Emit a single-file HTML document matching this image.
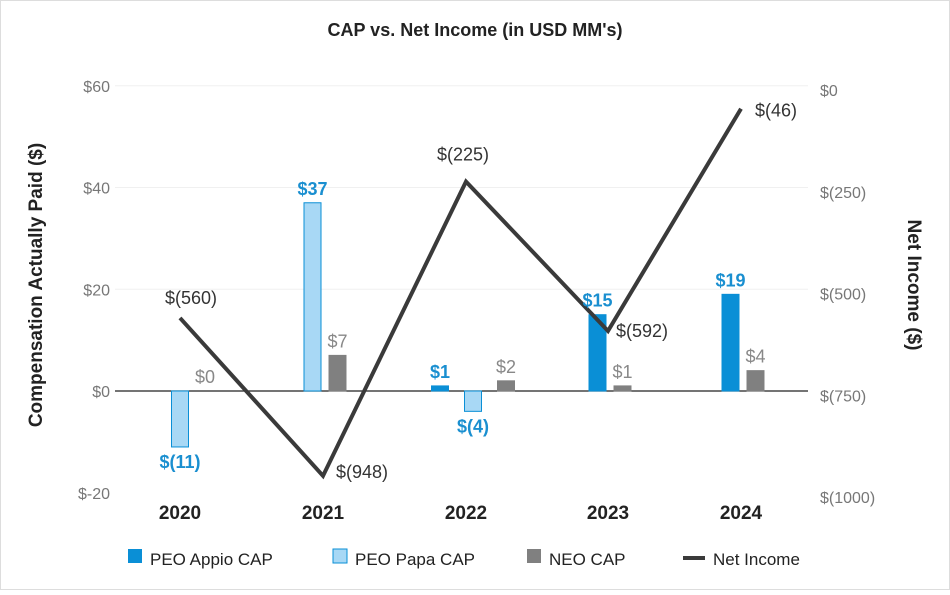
<!DOCTYPE html>
<html><head><meta charset="utf-8"><style>
body{margin:0;background:#fff;font-family:"Liberation Sans",sans-serif}
</style></head><body>
<svg id="chart" width="950" height="590" xmlns="http://www.w3.org/2000/svg" font-family="Liberation Sans, sans-serif">
<rect x="0.5" y="0.5" width="949" height="589" fill="#fff" stroke="#ddd"/>
<text x="475" y="36" text-anchor="middle" font-size="18" font-weight="bold" fill="#222">CAP vs. Net Income (in USD MM's)</text>
<text transform="translate(42,285) rotate(-90)" text-anchor="middle" font-size="19" font-weight="bold" fill="#222">Compensation Actually Paid ($)</text>
<text transform="translate(908,285) rotate(90)" text-anchor="middle" font-size="19" font-weight="bold" fill="#222">Net Income ($)</text>
<g id="grid"></g><g id="bars"></g><g id="line"></g><g id="labels"></g>
<g>
<rect x="128" y="549" width="14" height="14" fill="#0a8fd6"/><text x="150" y="565" font-size="17" fill="#222">PEO Appio CAP</text>
<rect x="333" y="549" width="14" height="14" fill="#a8d8f5" stroke="#0a8fd6"/><text x="355" y="565" font-size="17" fill="#222">PEO Papa CAP</text>
<rect x="527" y="549" width="14" height="14" fill="#808080"/><text x="549" y="565" font-size="17" fill="#222">NEO CAP</text>
<line x1="683" y1="558" x2="705" y2="558" stroke="#3a3a3a" stroke-width="4"/><text x="713" y="565" font-size="17" fill="#222">Net Income</text>
</g>
</svg>
<script>
const categories=["2020","2021","2022","2023","2024"];
const appio=[null,null,1,15,19];
const papa=[-11,37,-4,null,null];
const neo=[0,7,2,1,4];
const netIncome=[-560,-948,-225,-592,-46];
const leftTicks=[60,40,20,0,-20];
const rightTicks=[0,-250,-500,-750,-1000];
const NS="http://www.w3.org/2000/svg";
const catX=[180,323,466,608,741];
const yL=v=>391-(v)*(407/80);
const yR=v=>90-(v)*(407/1000);
function el(tag,attrs,parent,txt){const e=document.createElementNS(NS,tag);for(const k in attrs)e.setAttribute(k,attrs[k]);if(txt!==undefined)e.textContent=txt;document.getElementById(parent).appendChild(e);return e;}
const fmt=v=>v<0?"$("+Math.abs(v)+")":"$"+v;
leftTicks.forEach(t=>{
  if(t!==0&&t!==-20){const g=el('line',{x1:115,x2:808,y1:yL(t),y2:yL(t),stroke:'#f0f0f0'},'grid');
  
  }
  const l=el('text',{x:110,y:yL(t)+6,'text-anchor':'end','font-size':16,fill:'#777'},'grid',"$"+t);
  
  
});
rightTicks.forEach(t=>{
  const l=el('text',{x:820,y:yR(t)+6,'font-size':16,fill:'#777'},'grid',t===0?"$0":"$("+Math.abs(t)+")");
  
  
});
const z=el('line',{x1:115,x2:808,y1:yL(0),y2:yL(0),stroke:'#222','stroke-width':1.3},'grid');


categories.forEach((c,i)=>{
  const t=el('text',{x:catX[i],y:519,'text-anchor':'middle','font-size':19,'font-weight':'bold',fill:'#222'},'labels',c);
  
  
  const all=[[appio[i],'#0a8fd6','#0a8fd6','#1a8fd0','appio'],[papa[i],'#a8d8f5','#0a8fd6','#1a8fd0','papa'],[neo[i],'#808080','#808080','#888','neo']].filter(s=>s[0]!==null);
  const drawn=all.filter(s=>!(s[4]==='neo'&&s[0]===0));
  const n=drawn.length,sp=n===3?33:25,w=17,shift=n===3?7:(n===1?0:2);
  all.forEach(s=>{
    const v=s[0];
    const j=drawn.indexOf(s);
    const px=j<0?catX[i]+25:catX[i]+shift+(j-(n-1)/2)*sp;
    const y0=yL(0),y1=yL(v);
    if(j>=0){
      const r=el('rect',{x:px-w/2,y:Math.min(y0,y1),width:w,height:Math.max(Math.abs(y1-y0),0.5),fill:s[1],stroke:s[2],'stroke-width':1},'bars');
      
      
    }
    const ly=v<0?y1+21:y1-8;
    const l=el('text',{x:px,y:ly,'text-anchor':'middle','font-size':18,'font-weight':s[4]==='neo'?'normal':'bold',fill:s[3]},'labels',fmt(v));
    
    
  });
});
const pts=netIncome.map((v,i)=>catX[i]+","+yR(v)).join(" ");
const pl=el('polyline',{points:pts,fill:'none',stroke:'#3a3a3a','stroke-width':4,'stroke-linejoin':'miter'},'line');


const off=[[-15,-14],[13,2],[-29,-21],[8,6],[14,8]];
netIncome.forEach((v,i)=>{
  const l=el('text',{x:catX[i]+off[i][0],y:yR(v)+off[i][1],'font-size':18,fill:'#333'},'labels',fmt(v));
  
  
});
</script>
</body></html>
